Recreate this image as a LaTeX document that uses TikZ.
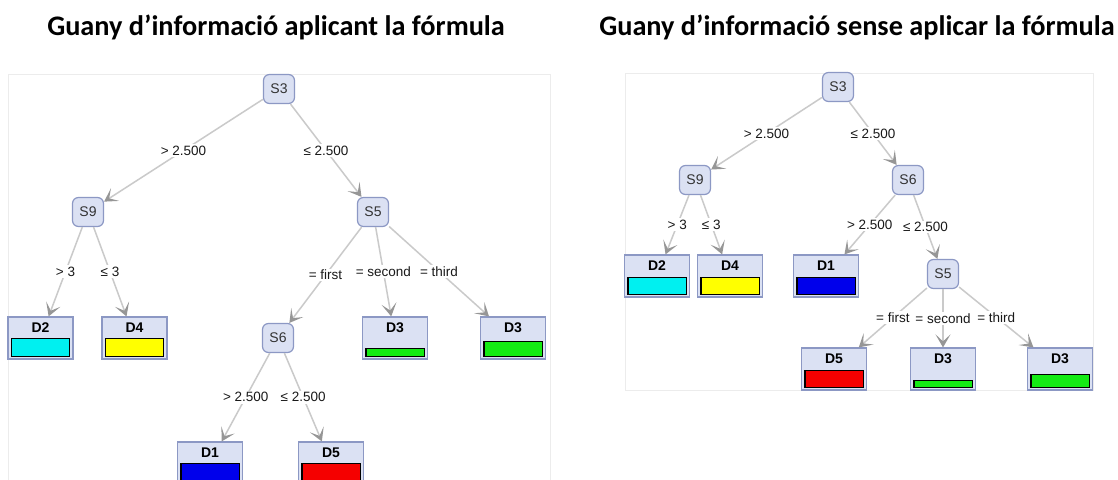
\documentclass[tikz,border=0pt]{standalone}
\usepackage{fontspec}
\setmainfont{Carlito}
\newfontfamily\treefont{Liberation Sans}
\usetikzlibrary{arrows.meta,calc}

\definecolor{nodefill}{RGB}{219,225,243}
\definecolor{nodeline}{RGB}{140,152,196}
\definecolor{edgeline}{RGB}{202,202,202}
\definecolor{arrowgray}{RGB}{150,150,150}
\definecolor{panelline}{RGB}{236,236,236}
\definecolor{barcyan}{RGB}{0,240,240}
\definecolor{baryellow}{RGB}{255,255,0}
\definecolor{barblue}{RGB}{0,0,235}
\definecolor{barred}{RGB}{245,0,0}
\definecolor{bargreen}{RGB}{20,235,20}

\tikzstyle{split}=[shape=rectangle,rounded corners=6pt,draw=nodeline,fill=nodefill,line width=1.2pt,minimum width=31pt,minimum height=29pt,inner sep=0pt,text=black!80,font=\treefont\fontsize{14}{14}\selectfont]
\tikzstyle{leaf}=[shape=rectangle,draw=nodeline,fill=nodefill,line width=1.2pt,minimum width=65pt,inner sep=3pt,text height=12pt,text depth=24pt,font=\treefont\bfseries\fontsize{14}{14}\selectfont]
\tikzstyle{edge}=[draw=edgeline,line width=1.5pt,-{Stealth[length=13pt,width=15pt,inset=7pt,color=arrowgray,fill=arrowgray]}]
\tikzstyle{cond}=[midway,fill=white,inner sep=1.5pt,text=black!90,font=\treefont\fontsize{13.5}{14}\selectfont]
\tikzstyle{panel}=[draw=panelline,line width=1pt]
\tikzstyle{title}=[font=\bfseries\fontsize{28.3}{32}\selectfont]

% colour bar at the foot of a leaf
\newcommand{\classbar}[3]{\filldraw[draw=black,line width=1.2pt,fill=#2] ($(#1.south west)+(4,-3)$) rectangle ($(#1.south east)+(-4,-3-#3)$);}

\begin{document}
\begin{tikzpicture}[x=1pt,y=-1pt]
        \useasboundingbox (0,0) rectangle (1118,479);
        \clip (0,0) rectangle (1118,479);
        \fill[white] (0,0) rectangle (1118,479);

        % titles
        \node[title] (tl) at (276,27) {Guany d’informació aplicant la fórmula};
        \node[title] (tr) at (857,27) {Guany d’informació sense aplicar la fórmula};

        % panels
        \draw[panel] (8,74) rectangle (550,495);
        \draw[panel] (625,73) rectangle (1093,390);

        % left tree
        \node[split] (ls3) at (279,89) {S3};
        \node[split] (ls9) at (88,212) {S9};
        \node[split] (ls5) at (373,212) {S5};
        \node[split] (ls6) at (278,338) {S6};
        \node[leaf] (ld2) at (40.5,338) {D2};
        \node[leaf] (ld4) at (134.5,338) {D4};
        \node[leaf] (ld3a) at (395,338) {D3};
        \node[leaf] (ld3b) at (513,338) {D3};
        \node[leaf] (ld1) at (210,463) {D1};
        \node[leaf] (ld5) at (331,463) {D5};

        \draw[edge] (ls3) -- node[cond] {> 2.500} (ls9);
        \draw[edge] (ls3) -- node[cond] {≤ 2.500} (ls5);
        \draw[edge] (ls9) -- node[cond] {> 3} (ld2);
        \draw[edge] (ls9) -- node[cond] {≤ 3} (ld4);
        \draw[edge] (ls5) -- node[cond] {= first} (ls6);
        \draw[edge] (ls5) -- node[cond] {= second} (ld3a);
        \draw[edge] (ls5) -- node[cond] {= third} (ld3b);
        \draw[edge] (ls6) -- node[cond] {> 2.500} (ld1);
        \draw[edge] (ls6) -- node[cond] {≤ 2.500} (ld5);

        \classbar{ld2}{barcyan}{18}
        \classbar{ld4}{baryellow}{18}
        \classbar{ld3a}{bargreen}{8}
        \classbar{ld3b}{bargreen}{15}
        \classbar{ld1}{barblue}{18}
        \classbar{ld5}{barred}{18}

        % right tree
        \node[split] (rs3) at (838,87) {S3};
        \node[split] (rs9) at (695,180) {S9};
        \node[split] (rs6) at (908,180) {S6};
        \node[split] (rs5) at (943,274) {S5};
        \node[leaf] (rd2) at (657,276) {D2};
        \node[leaf] (rd4) at (730,276) {D4};
        \node[leaf] (rd1) at (826,276) {D1};
        \node[leaf] (rd5) at (834,369) {D5};
        \node[leaf] (rd3a) at (943,369) {D3};
        \node[leaf] (rd3b) at (1060,369) {D3};

        \draw[edge] (rs3) -- node[cond] {> 2.500} (rs9);
        \draw[edge] (rs3) -- node[cond] {≤ 2.500} (rs6);
        \draw[edge] (rs9) -- node[cond] {> 3} (rd2);
        \draw[edge] (rs9) -- node[cond] {≤ 3} (rd4);
        \draw[edge] (rs6) -- node[cond] {> 2.500} (rd1);
        \draw[edge] (rs6) -- node[cond] {≤ 2.500} (rs5);
        \draw[edge] (rs5) -- node[cond] {= first} (rd5);
        \draw[edge] (rs5) -- node[cond] {= second} (rd3a);
        \draw[edge] (rs5) -- node[cond] {= third} (rd3b);

        \classbar{rd2}{barcyan}{17}
        \classbar{rd4}{baryellow}{17}
        \classbar{rd1}{barblue}{17}
        \classbar{rd5}{barred}{17}
        \classbar{rd3a}{bargreen}{7}
        \classbar{rd3b}{bargreen}{13}
    \end{tikzpicture}
\end{document}
